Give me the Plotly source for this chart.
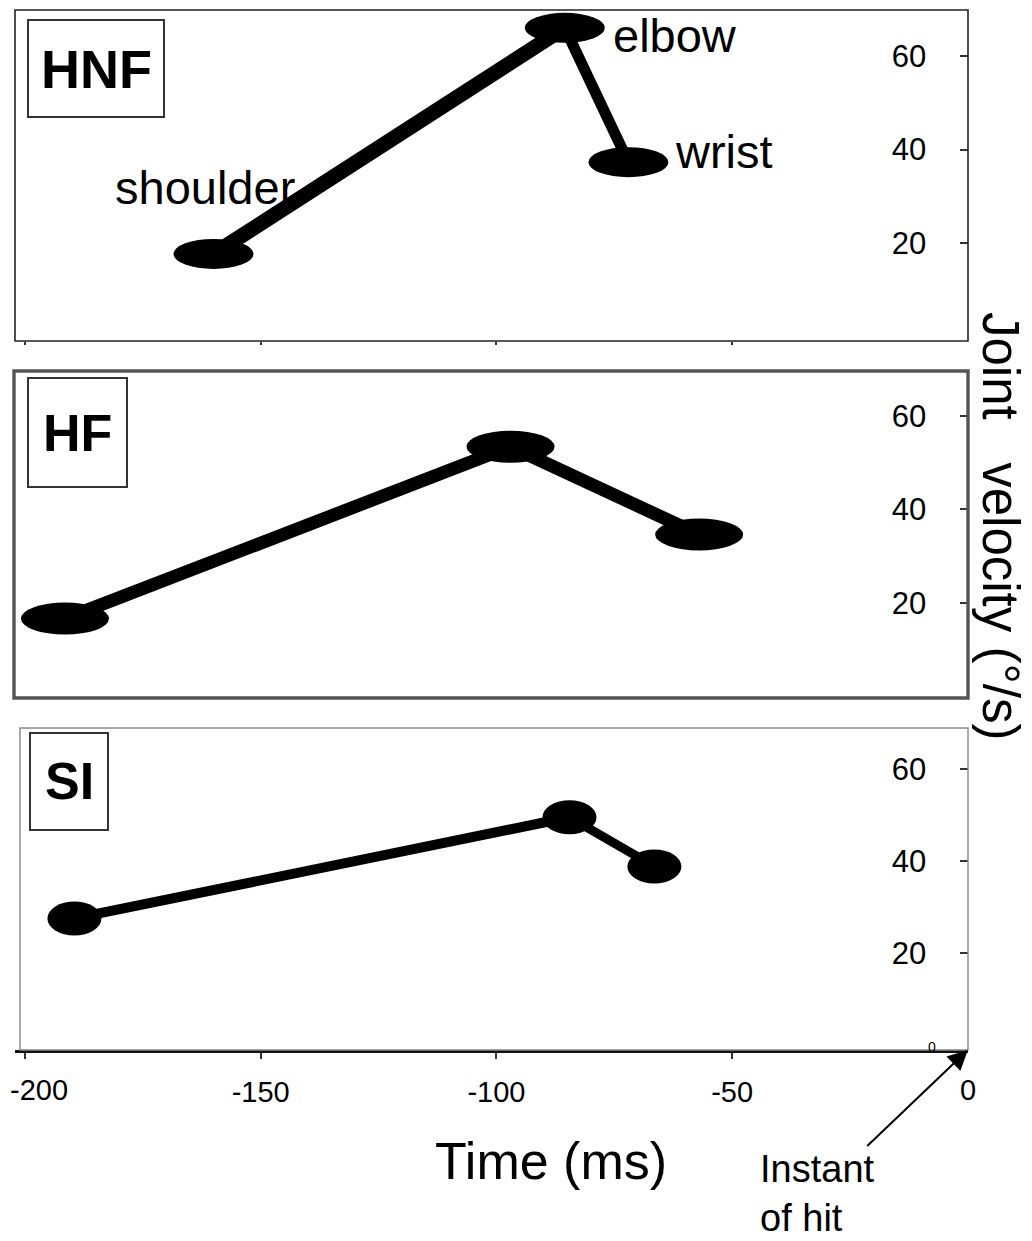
import plotly.graph_objects as go

# ---- data -------------------------------------------------------------
panels = ["HNF", "HF", "SI"]
joints = ["shoulder", "elbow", "wrist"]

# time of peak joint velocity (ms, relative to the instant of hit)
hnf_time = [-160.0, -85.5, -72.0]
hf_time = [-191.5, -97.0, -57.0]
si_time = [-189.5, -84.5, -66.5]

# peak joint velocity (deg/s)
hnf_velocity = [17.7, 66.0, 37.3]
hf_velocity = [16.6, 53.4, 34.6]
si_velocity = [27.6, 49.6, 38.9]

x_tick_values = [-200, -150, -100, -50, 0]
x_tick_labels = ["-200", "-150", "-100", "-50", "0"]
y_tick_values = [20, 40, 60]
y_tick_labels = ["20", "40", "60"]

series = {
    "HNF": (hnf_time, hnf_velocity),
    "HF": (hf_time, hf_velocity),
    "SI": (si_time, si_velocity),
}

# ---- page geometry ----------------------------------------------------
FIG_W, FIG_H = 1032, 1241
ML, MR, MT, MB = 15, 64, 10, 191
PW = FIG_W - ML - MR
PH = FIG_H - MT - MB
FONT = "Liberation Sans, Arial, sans-serif"
X_TICK_SIZE = 29


def paper_x(px):
    return (px - ML) / PW


def paper_y(py):
    return (FIG_H - MB - py) / PH


style = {
    "HNF": dict(top=10, bottom=341, yrange=[-0.9, 69.8], ell=(80, 30),
                seg_w=[15, 11], frame_w=1.6, frame_c="#222222",
                frame_left=15, xticklen=3,
                box=(28, 20, 164, 117), label_size=54),
    "HF": dict(top=371, bottom=698, yrange=[-0.4, 69.6], ell=(88, 32),
               seg_w=[13, 13], frame_w=3.4, frame_c="#555555",
               frame_left=14, xticklen=0,
               box=(28, 378, 127, 487), label_size=52),
    "SI": dict(top=728, bottom=1050, yrange=[-1.0, 69.0], ell=(54, 34),
               seg_w=[10, 9], frame_w=1.4, frame_c="#888888",
               frame_left=20, xticklen=6,
               box=(30, 733, 108, 830), label_size=52),
}

fig = go.Figure()
shapes = []
annotations = []
layout_axes = {}

# the two corner time labels are placed by hand (one would spill past the
# page edge, the other is suppressed by the inside y labels)
inner_x_labels = [lbl if 0 < k < len(x_tick_labels) - 1 else ""
                  for k, lbl in enumerate(x_tick_labels)]

for i, name in enumerate(panels, start=1):
    sfx = "" if i == 1 else str(i)
    xr, yr = "x" + sfx, "y" + sfx
    st = style[name]
    t, v = series[name]

    # connecting segments shoulder -> elbow -> wrist
    for j in range(len(t) - 1):
        fig.add_trace(go.Scatter(
            x=t[j:j + 2], y=v[j:j + 2], mode="lines",
            line=dict(color="black", width=st["seg_w"][j]),
            xaxis=xr, yaxis=yr, showlegend=False, hoverinfo="skip"))

    # elliptical joint markers, anchored at each data point
    ew, eh = st["ell"]
    for tk, vk in zip(t, v):
        shapes.append(dict(
            type="circle", xref=xr, yref=yr,
            xsizemode="pixel", ysizemode="pixel",
            xanchor=tk, yanchor=vk,
            x0=-ew / 2, x1=ew / 2, y0=-eh / 2, y1=eh / 2,
            fillcolor="black", line=dict(width=0), layer="above"))

    # panel frame
    shapes.append(dict(
        type="rect", xref=xr + " domain", yref=yr + " domain",
        x0=(st["frame_left"] - ML) / PW, x1=1, y0=0, y1=1,
        line=dict(color=st["frame_c"], width=st["frame_w"]), layer="above"))

    # condition label box
    bx0, by0, bx1, by1 = st["box"]
    shapes.append(dict(
        type="rect", xref="paper", yref="paper",
        x0=paper_x(bx0), x1=paper_x(bx1), y0=paper_y(by1), y1=paper_y(by0),
        line=dict(color="#333333", width=2), fillcolor="white", layer="above"))
    annotations.append(dict(
        text="<b>%s</b>" % name, xref="paper", yref="paper",
        x=paper_x((bx0 + bx1) / 2), y=paper_y((by0 + by1) / 2),
        xanchor="center", yanchor="middle", showarrow=False,
        font=dict(family=FONT, size=st["label_size"], color="black")))

    is_bottom = (i == len(panels))
    layout_axes["xaxis" + sfx] = dict(
        domain=[0, 1], anchor=yr, range=[-202.1, 0.02], automargin=False,
        tickvals=x_tick_values, ticktext=inner_x_labels,
        showticklabels=is_bottom, ticks="outside" if st["xticklen"] else "",
        ticklen=st["xticklen"], tickwidth=1.5, tickcolor="#333333",
        showline=is_bottom, linecolor="#111111", linewidth=2.5,
        showgrid=False, zeroline=False, ticklabelstandoff=8,
        tickfont=dict(family=FONT, size=X_TICK_SIZE, color="black"))
    layout_axes["yaxis" + sfx] = dict(
        domain=[paper_y(st["bottom"]), paper_y(st["top"])], anchor=xr,
        range=st["yrange"], side="right", automargin=False,
        tickvals=y_tick_values, ticktext=y_tick_labels,
        ticks="inside", ticklen=8, tickwidth=1.5, tickcolor="#333333",
        ticklabelposition="inside", ticklabelstandoff=37,
        showline=False, showgrid=False, zeroline=False,
        tickfont=dict(family=FONT, size=31, color="black"))

# corner time labels
annotations.append(dict(
    text=x_tick_labels[0], xref="x3", yref="y3 domain",
    x=x_tick_values[0], y=0, xanchor="left", yanchor="top",
    xshift=-17, yshift=-22, showarrow=False,
    font=dict(family=FONT, size=X_TICK_SIZE, color="black")))
annotations.append(dict(
    text=x_tick_labels[-1], xref="x3", yref="y3 domain",
    x=x_tick_values[-1], y=0, xanchor="center", yanchor="top",
    yshift=-22, showarrow=False,
    font=dict(family=FONT, size=X_TICK_SIZE, color="black")))

# joint names next to the HNF markers
hnf_t, hnf_v = series["HNF"]
label_offsets = {
    "shoulder": dict(xanchor="center", xshift=-9, yshift=66),
    "elbow": dict(xanchor="left", xshift=46, yshift=-8),
    "wrist": dict(xanchor="left", xshift=45, yshift=11),
}
for jname, tk, vk in zip(joints, hnf_t, hnf_v):
    annotations.append(dict(
        text=jname, xref="x", yref="y", x=tk, y=vk, yanchor="middle",
        showarrow=False, font=dict(family=FONT, size=47, color="black"),
        **label_offsets[jname]))

# tiny zero label at the origin of the bottom panel
annotations.append(dict(
    text="0", xref="x3", yref="y3", x=0, y=0, xanchor="right",
    yanchor="middle", xshift=-30, yshift=-2, showarrow=False,
    font=dict(family=FONT, size=14, color="black")))

# instant-of-hit pointer
annotations.append(dict(
    text="Instant<br>of hit", align="left",
    xref="x3", yref="y3 domain", x=0, y=0,
    ax=-150, ay=143, showarrow=True,
    arrowhead=2, arrowsize=2.0, arrowwidth=2, arrowcolor="black",
    standoff=0, font=dict(family=FONT, size=38, color="black")))

# axis titles
annotations.append(dict(
    text="Time (ms)", xref="paper", yref="paper",
    x=paper_x(551), y=paper_y(1161), xanchor="center", yanchor="middle",
    showarrow=False, font=dict(family=FONT, size=52, color="black")))
annotations.append(dict(
    text="Joint\u00a0\u00a0 velocity (\u00b0/s)", xref="paper", yref="paper",
    x=paper_x(1001), y=paper_y(526), xanchor="center", yanchor="middle",
    textangle=90, showarrow=False,
    font=dict(family=FONT, size=51, color="black")))

fig.update_layout(
    width=FIG_W, height=FIG_H,
    margin=dict(l=ML, r=MR, t=MT, b=MB, autoexpand=False),
    paper_bgcolor="white", plot_bgcolor="white",
    showlegend=False,
    shapes=shapes, annotations=annotations,
    **layout_axes)

fig.write_html("out.html")
